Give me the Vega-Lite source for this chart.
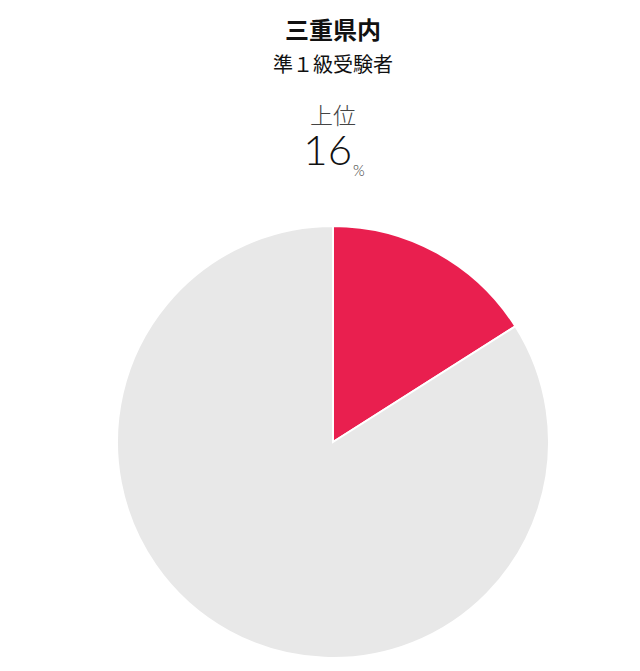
{
  "$schema": "https://vega.github.io/schema/vega-lite/v6.json",
  "autosize": "none",
  "width": 432,
  "height": 432,
  "padding": {"left": 117, "top": 226, "right": 91, "bottom": 13},
  "background": "white",
  "config": {"view": {"stroke": null}, "font": "Noto Sans CJK JP"},
  "title": {
    "text": "三重県内",
    "subtitle": "準１級受験者",
    "anchor": "middle",
    "offset": 30,
    "fontSize": 24,
    "fontWeight": "bold",
    "color": "#111111",
    "font": "Noto Sans CJK JP",
    "subtitleFont": "Noto Sans CJK JP",
    "subtitleFontSize": 20,
    "subtitleColor": "#111111",
    "subtitlePadding": 12
  },
  "data": {
    "values": [
      {"group": "上位", "share": 16, "unit": "%"},
      {"group": "その他", "share": 84, "unit": "%"}
    ]
  },
  "layer": [
    {
      "mark": {"type": "arc", "stroke": "white", "strokeWidth": 2},
      "encoding": {
        "theta": {"field": "share", "type": "quantitative", "stack": true},
        "order": {"field": "share", "type": "quantitative", "sort": "ascending"},
        "color": {
          "field": "group",
          "type": "nominal",
          "scale": {"domain": ["上位", "その他"], "range": ["#E91F4F", "#E8E8E8"]},
          "legend": null
        }
      }
    },
    {
      "transform": [{"filter": "datum.group == '上位'"}],
      "mark": {"type": "text", "align": "center", "baseline": "alphabetic", "fontSize": 23, "fontWeight": 300, "color": "#444444", "font": "Noto Sans CJK JP"},
      "encoding": {
        "text": {"field": "group", "type": "nominal"},
        "y": {"value": -102}
      }
    },
    {
      "transform": [{"filter": "datum.group == '上位'"}],
      "mark": {"type": "text", "align": "right", "baseline": "alphabetic", "fontSize": 42, "fontWeight": 300, "color": "#111111", "font": "Lato", "dx": 19},
      "encoding": {
        "text": {"field": "share", "type": "quantitative"},
        "y": {"value": -61}
      }
    },
    {
      "transform": [{"filter": "datum.group == '上位'"}],
      "mark": {"type": "text", "align": "left", "baseline": "alphabetic", "fontSize": 15, "fontWeight": 300, "color": "#333333", "font": "Lato", "dx": 20},
      "encoding": {
        "text": {"field": "unit", "type": "nominal"},
        "y": {"value": -50}
      }
    }
  ]
}
